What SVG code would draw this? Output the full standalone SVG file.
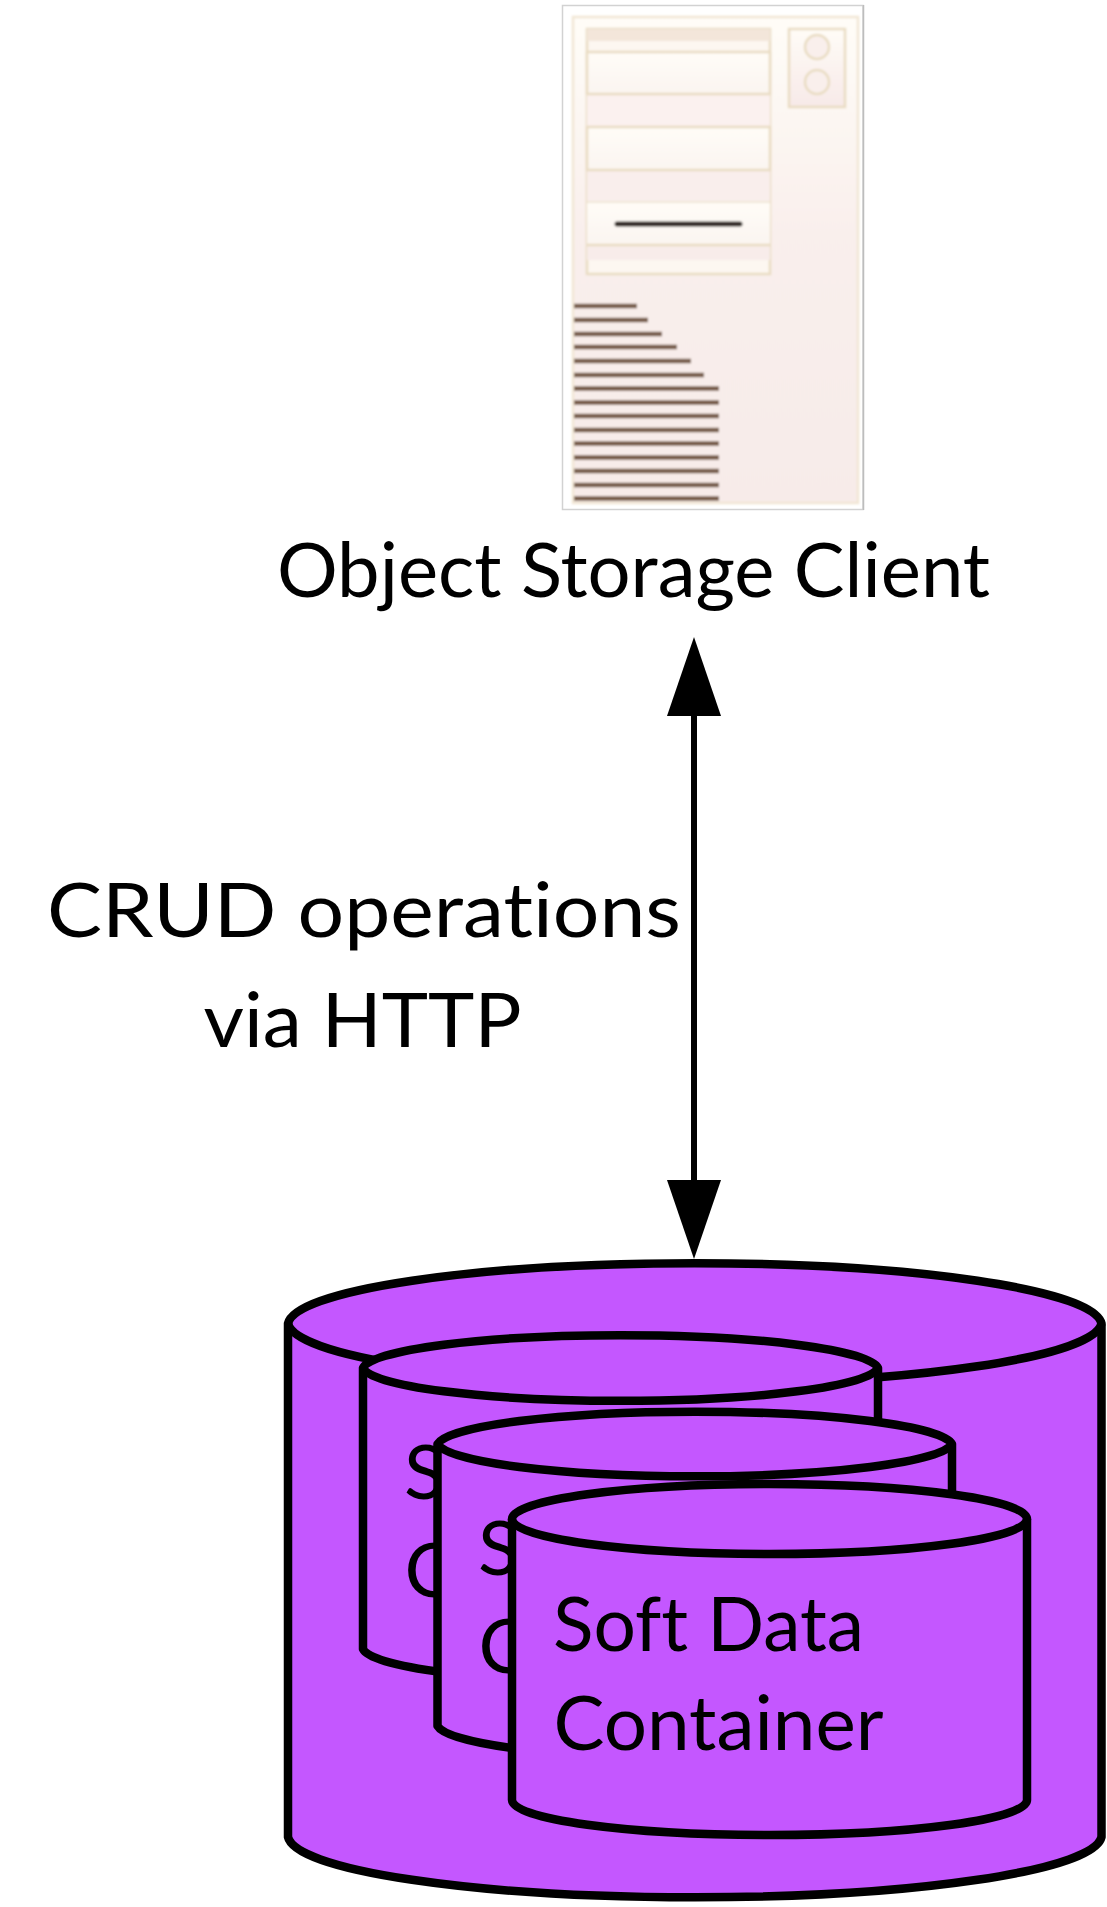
<svg xmlns="http://www.w3.org/2000/svg" width="1107" height="1907" viewBox="0 0 1107 1907">
<style>
.t{font-family:Lato,"Open Sans",sans-serif;font-size:76px;fill:#000;font-variant-ligatures:none}
.cyl{fill:#c457ff;stroke:#000;stroke-width:8.500;stroke-linejoin:round}
.box{fill:url(#boxG);stroke:#e9dcc2;stroke-width:2.5}
.st{stroke:#755a46;stroke-width:4.500;fill:none}
</style>
<defs>
<linearGradient id="panelG" x1="0" y1="0" x2="0" y2="1"><stop offset="0" stop-color="#fffdf8"/><stop offset="0.45" stop-color="#f9efec"/><stop offset="1" stop-color="#f7ebe9"/></linearGradient>
<linearGradient id="boxG" x1="0" y1="0" x2="0" y2="1"><stop offset="0" stop-color="#fffcf7"/><stop offset="1" stop-color="#fbf5f1"/></linearGradient>
<linearGradient id="smallG" x1="0" y1="0" x2="0" y2="1"><stop offset="0" stop-color="#fffcf7"/><stop offset="1" stop-color="#f7e9e8"/></linearGradient>
<filter id="soft" x="-2%" y="-2%" width="104%" height="104%"><feGaussianBlur stdDeviation="0.9"/></filter>
<marker id="head" markerUnits="userSpaceOnUse" markerWidth="80" markerHeight="54" refX="1" refY="27" orient="auto-start-reverse"><path d="M0,0 L79,27 L0,54 Z" fill="#000"/></marker>
</defs>
<rect width="1107" height="1907" fill="#fff"/>

<g id="client">
<rect x="562.5" y="5.5" width="300.500" height="504" fill="#fff" stroke="#d2d2d2" stroke-width="1.5"/>
<line x1="863.500" y1="5" x2="863.500" y2="510" stroke="#bdbdbd" stroke-width="1.500"/>
<g filter="url(#soft)">
<rect x="573" y="17" width="285" height="486" fill="url(#panelG)" stroke="#f1e6d4" stroke-width="2.5"/>
<rect x="587" y="29" width="183" height="245" fill="#fdf7f1" stroke="#e9dcc2" stroke-width="2.5"/>
<rect x="587" y="29" width="183" height="12" fill="#f3e6da"/>
<rect x="587" y="94" width="183" height="33" fill="#fbf1ef"/>
<rect x="587" y="170" width="183" height="32" fill="#f9eeec"/>
<rect x="587" y="245" width="183" height="15" fill="#f8ecea"/>
<rect x="587" y="52" width="183" height="42" class="box"/>
<rect x="587" y="127" width="183" height="43" class="box"/>
<rect x="587" y="202" width="183" height="43" class="box" style="stroke:none"/>
<line x1="587" y1="202" x2="770" y2="202" stroke="#f1e8d8" stroke-width="2"/>
<line x1="587" y1="245" x2="770" y2="245" stroke="#e9dcc2" stroke-width="2.500"/>
<line x1="617" y1="224" x2="740" y2="224" stroke="#2e2720" stroke-width="5" stroke-linecap="round"/>
<rect x="789" y="29" width="56" height="78" fill="url(#smallG)" stroke="#e9dcc2" stroke-width="2.5"/>
<circle cx="817" cy="47" r="12" fill="#f9efec" stroke="#e9dcc2" stroke-width="2.5"/>
<circle cx="817" cy="82" r="12" fill="#f9efec" stroke="#e9dcc2" stroke-width="2.5"/>
<path class="st" d="M574,306H637M574,320H648M574,334H662M574,347H677M574,361H691M574,375H704M574,388.500H719M574,402.500H719M574,416H719M574,430H719M574,443.500H719M574,457.500H719M574,471H719M574,485H719M574,498.500H719"/>
</g>
<text class="t" x="277" y="597" textLength="713" lengthAdjust="spacingAndGlyphs">Object Storage Client</text>
</g>

<g id="connectors">
<line x1="694" y1="715" x2="694" y2="1181" stroke="#000" stroke-width="6" marker-start="url(#head)" marker-end="url(#head)"/>
</g>

<g id="crud-label">
<text class="t" x="47" y="937" textLength="634" lengthAdjust="spacingAndGlyphs">CRUD operations</text>
<text class="t" x="203.500" y="1047" textLength="318" lengthAdjust="spacingAndGlyphs">via HTTP</text>
</g>

<g id="outer-cylinder">
<path class="cyl" d="M288,1323.500 A407,62.500 0 0 1 1101.500,1323.500 V1837 A407,62.500 0 0 1 288,1837 Z"/>
<path class="cyl" style="fill:none" d="M288,1323.500 A407,62.500 0 0 0 1101.500,1323.500"/>
</g>

<g id="container-1">
<path class="cyl" d="M363,1368 A258,35 0 0 1 878,1368 V1649 A258,35 0 0 1 363,1649 Z"/>
<path class="cyl" style="fill:none" d="M363,1368 A258,35 0 0 0 878,1368"/>
<text class="t" x="404" y="1499">S</text>
<text class="t" x="404.500" y="1597">C</text>
</g>

<g id="container-2">
<path class="cyl" d="M437.500,1444 A258,35 0 0 1 952,1444 V1726 A258,35 0 0 1 437.500,1726 Z"/>
<path class="cyl" style="fill:none" d="M437.500,1444 A258,35 0 0 0 952,1444"/>
<text class="t" x="478" y="1575">S</text>
<text class="t" x="478.500" y="1673">C</text>
</g>

<g id="container-3">
<path class="cyl" d="M512,1519 A257.500,35 0 0 1 1027,1519 V1800 A257.500,35 0 0 1 512,1800 Z"/>
<path class="cyl" style="fill:none" d="M512,1519 A257.500,35 0 0 0 1027,1519"/>
<text class="t" x="553" y="1651" textLength="311" lengthAdjust="spacingAndGlyphs">Soft Data</text>
<text class="t" x="553.500" y="1749.500" textLength="330" lengthAdjust="spacingAndGlyphs">Container</text>
</g>
</svg>
